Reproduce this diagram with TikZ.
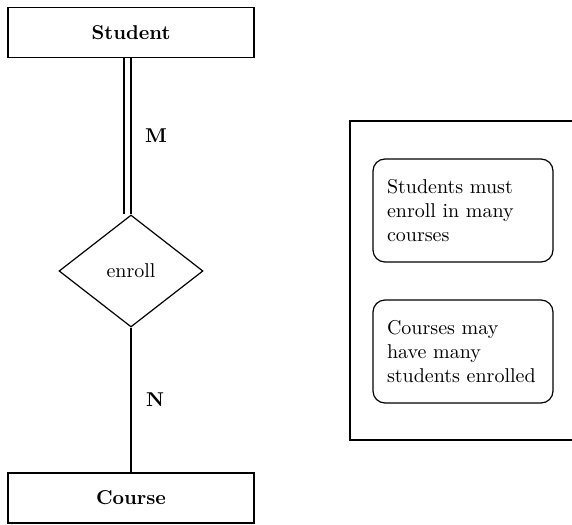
\documentclass[tikz,border=0pt]{standalone}
\usepackage{tikz}
\usetikzlibrary{shapes.geometric}
\usetikzlibrary{calc}

\begin{document}
\begin{tikzpicture}[x=0.5pt, y=-0.5pt, semithick,
    entity/.style={draw=black, rectangle, minimum width=123pt, minimum height=25pt, font=\bfseries},
    relship/.style={draw=black, diamond, inner sep=0pt, minimum width=72pt, minimum height=56pt},
    note/.style={draw=black, rectangle, rounded corners=6pt, minimum width=90pt, minimum height=51.5pt,
                 text width=76pt, inner xsep=7pt, align=left}]
      \useasboundingbox (0,0) rectangle (572,524);

      % entities and the relationship
      \node [entity, name=student] at (131,32.5) {Student};
      \node [relship, name=enroll] at (131,271) {enroll};
      \node [entity, name=course] at (131,498) {Course};

      % participation: double line for total, single for partial
      \draw [double, double distance=2.9pt] ([xshift=-1.75pt]student.south) -- ([xshift=-1.75pt]enroll.north);
      \draw (enroll.south) -- (course.north);

      % cardinalities
      \node [font=\bfseries, name=card m] at (156,136) {M};
      \node [font=\bfseries, name=card n] at (155,400) {N};

      % side frame with the two remarks
      \draw (572,121) -- (350,121) -- (350,440) -- (572,440);
      \node [note, name=rule m] at (463,210.5) {Students must\\ enroll in many\\ courses};
      \node [note, name=rule n] at (463,351.5) {Courses may\\ have many\\ students enrolled};

    \end{tikzpicture}
\end{document}
